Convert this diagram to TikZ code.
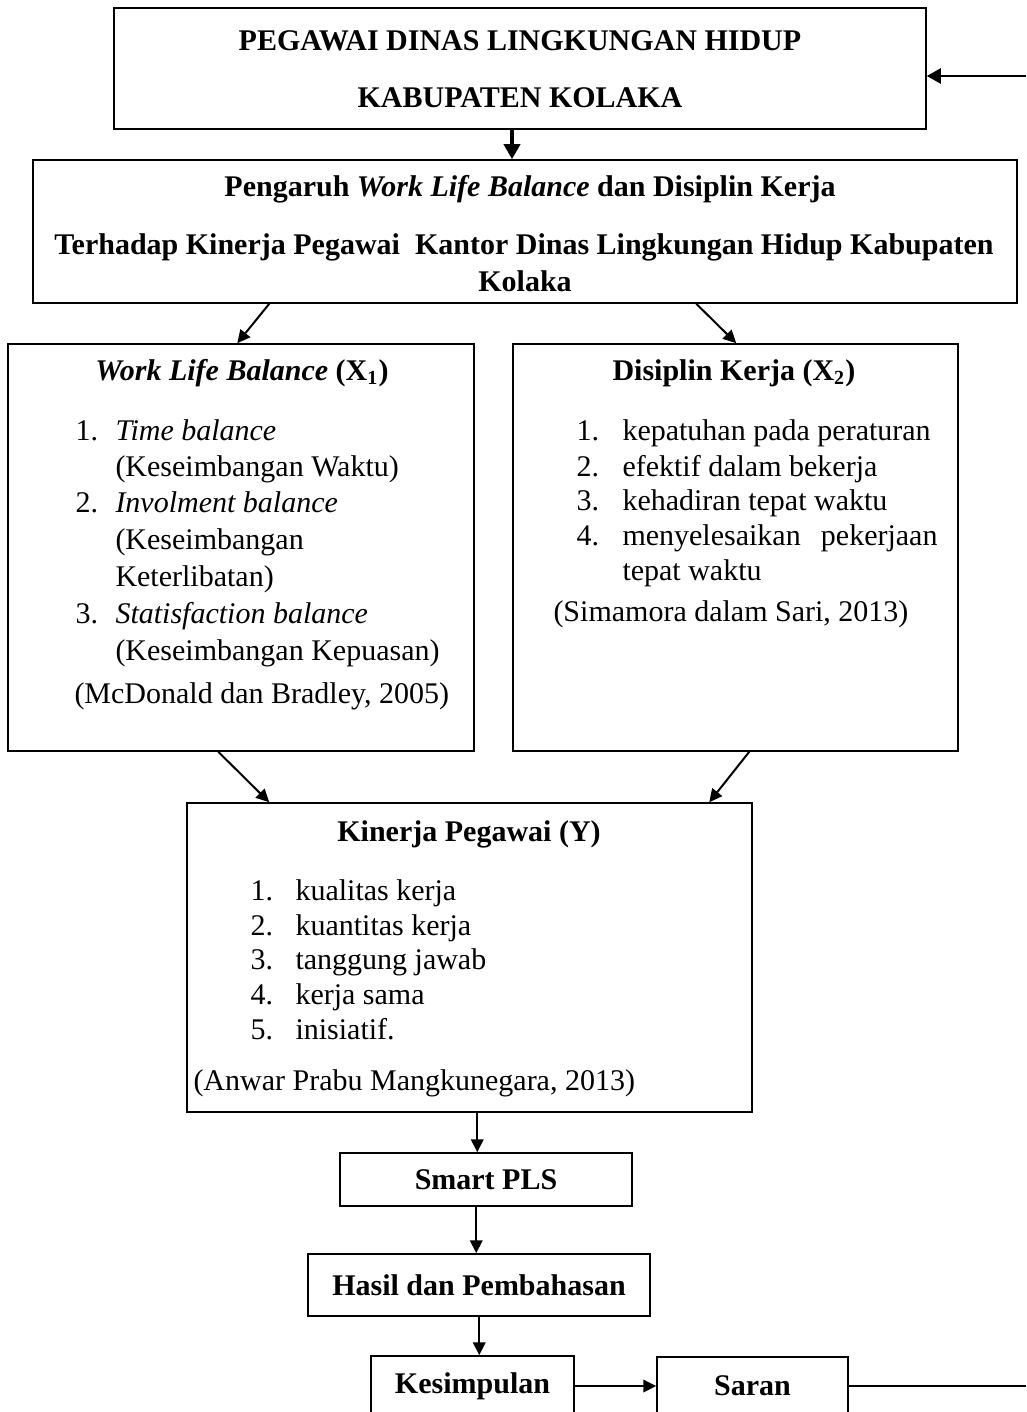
\documentclass[tikz,border=0pt]{standalone}
\usepackage{fontspec}
\setmainfont{Liberation Serif}
\usetikzlibrary{arrows.meta,calc}
\begin{document}
\begin{tikzpicture}[x=0.4pt,y=-0.4pt,
  box/.style={draw, line width=0.6pt, inner sep=0pt, rectangle},
  t/.style={inner sep=0pt, font=\fontsize{12}{14.6}\selectfont},
  tb/.style={inner sep=0pt, font=\fontsize{12}{14.6}\selectfont\bfseries},
  ln/.style={t, yshift=-1pt},
  lb/.style={tb, yshift=-1pt},
  arr/.style={line width=0.8pt, -{Triangle[length=5.2pt,width=5pt]}},
  arrbig/.style={line width=1.4pt, -{Triangle[length=6pt,width=6.4pt]}},
  arrside/.style={line width=0.9pt, -{Triangle[length=5.6pt,width=6pt]}},
  plain/.style={line width=0.8pt}
]
\useasboundingbox (0,0) rectangle (1026,1412);
\clip (0,0) rectangle (1026,1412);

% boxes
\node[box, minimum width=324.8pt, minimum height=48.4pt] (T) at (520,68.5) {};
\node[box, minimum width=393.6pt, minimum height=57.2pt] (B) at (525,231.5) {};
\node[box, minimum width=186.4pt, minimum height=162.8pt] (L) at (241,547.5) {};
\node[box, minimum width=178pt, minimum height=162.8pt] (R) at (735.5,547.5) {};
\node[box, minimum width=226pt, minimum height=123.6pt] (K) at (469.5,957.5) {};
\node[box, tb, minimum width=116.8pt, minimum height=21.2pt] (S) at (486,1179.5) {Smart PLS};
\node[box, tb, minimum width=136.8pt, minimum height=24.8pt] (H) at (479,1285) {Hasil dan Pembahasan};
\node[box, tb, minimum width=81.2pt, minimum height=24pt] (KS) at (472.5,1386) {Kesimpulan};
\node[box, tb, minimum width=76.4pt, minimum height=23.2pt] (SR) at (752.5,1386) {Saran};

% top box text
\node[lb, anchor=mid] (T1) at (520,42) {PEGAWAI DINAS LINGKUNGAN HIDUP};
\node[lb, anchor=mid] (T2) at (520,99) {KABUPATEN KOLAKA};

% second box text
\node[lb, anchor=mid] (B1) at (530,188) {Pengaruh \textit{Work Life Balance} dan Disiplin Kerja};
\node[lb, anchor=mid] (B2) at (524,246) {Terhadap Kinerja Pegawai\ \ Kantor Dinas Lingkungan Hidup Kabupaten};
\node[lb, anchor=mid] (B3) at (525,283) {Kolaka};

% left box
\node[lb, anchor=mid] (Lt) at (242,372) {\textit{Work Life Balance} (X\textsubscript{1})};
\node[ln, anchor=mid west] (L1n) at (75,432) {1.};
\node[ln, anchor=mid west] (L1) at (115,432) {\textit{Time balance}};
\node[ln, anchor=mid west] (L1b) at (115,468) {(Keseimbangan Waktu)};
\node[ln, anchor=mid west] (L2n) at (75,504) {2.};
\node[ln, anchor=mid west] (L2) at (115,504) {\textit{Involment balance}};
\node[ln, anchor=mid west] (L2b) at (115,541) {(Keseimbangan};
\node[ln, anchor=mid west] (L2c) at (115,578) {Keterlibatan)};
\node[ln, anchor=mid west] (L3n) at (75,615) {3.};
\node[ln, anchor=mid west] (L3) at (115,615) {\textit{Statisfaction balance}};
\node[ln, anchor=mid west] (L3b) at (115,652) {(Keseimbangan Kepuasan)};
\node[ln, anchor=mid west] (Lsrc) at (74,695) {(McDonald dan Bradley, 2005)};

% right box
\node[lb, anchor=mid] (Rt) at (734,372) {Disiplin Kerja (X\textsubscript{2})};
\node[ln, anchor=mid west] (R1n) at (576,432) {1.};
\node[ln, anchor=mid west] (R1) at (622,432) {kepatuhan pada peraturan};
\node[ln, anchor=mid west] (R2n) at (576,468) {2.};
\node[ln, anchor=mid west] (R2) at (622,468) {efektif dalam bekerja};
\node[ln, anchor=mid west] (R3n) at (576,502) {3.};
\node[ln, anchor=mid west] (R3) at (622,502) {kehadiran tepat waktu};
\node[ln, anchor=mid west] (R4n) at (576,537) {4.};
\node[ln, anchor=mid west] (R4) at (622,537) {\hbox to 126pt{menyelesaikan\hfill pekerjaan}};
\node[ln, anchor=mid west] (R4b) at (622,572) {tepat waktu};
\node[ln, anchor=mid west] (Rsrc) at (553,613) {(Simamora dalam Sari, 2013)};

% kinerja box
\node[lb, anchor=mid] (Kt) at (469,833) {Kinerja Pegawai (Y)};
\node[ln, anchor=mid west] (K1n) at (250,892) {1.};
\node[ln, anchor=mid west] (K1) at (295,892) {kualitas kerja};
\node[ln, anchor=mid west] (K2n) at (250,927) {2.};
\node[ln, anchor=mid west] (K2) at (295,927) {kuantitas kerja};
\node[ln, anchor=mid west] (K3n) at (250,961) {3.};
\node[ln, anchor=mid west] (K3) at (295,961) {tanggung jawab};
\node[ln, anchor=mid west] (K4n) at (250,996) {4.};
\node[ln, anchor=mid west] (K4) at (295,996) {kerja sama};
\node[ln, anchor=mid west] (K5n) at (250,1031) {5.};
\node[ln, anchor=mid west] (K5) at (295,1031) {inisiatif.};
\node[ln, anchor=mid west] (Ksrc) at (193,1082) {(Anwar Prabu Mangkunegara, 2013)};

% connectors
\coordinate (rin) at (1026,76);
\draw[arrside] (rin) -- (rin -| T.east);
\coordinate (a0) at ($(T.south)+(-8,0)$);
\draw[arrbig] (a0) -- (a0 |- B.north);
\draw[arr] ($(B.south west)+(237,0)$) -- ($(L.north west)+(230,0)$);
\draw[arr] ($(B.south west)+(664,0)$) -- ($(R.north west)+(224,0)$);
\draw[arr] ($(L.south west)+(211,0)$) -- ($(K.north west)+(83,0)$);
\draw[arr] ($(R.south west)+(237,0)$) -- ($(K.north west)+(523,0)$);
\coordinate (a1) at ($(K.south west)+(291,0)$);
\draw[arr] (a1) -- (a1 |- S.north);
\coordinate (a2) at ($(S.south west)+(137,0)$);
\draw[arr] (a2) -- (a2 |- H.north);
\coordinate (a3) at ($(H.south west)+(172,0)$);
\draw[arr] (a3) -- (a3 |- KS.north);
\draw[arr] (KS.east) -- (SR.west);
\coordinate (rout) at (1026,1386);
\draw[plain] (SR.east) -- (rout);
\end{tikzpicture}
\end{document}
